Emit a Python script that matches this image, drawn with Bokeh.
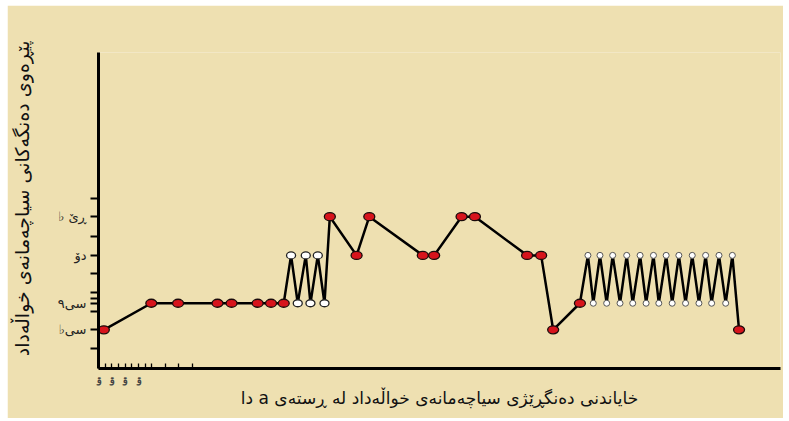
from bokeh.plotting import figure
from bokeh.models import FixedTicker, Range1d, ColumnDataSource
from bokeh.embed import file_html
from bokeh.resources import INLINE

BG = "#EEE0B1"
FONT = "DejaVu Sans"
RLE, PDF = "\u202B", "\u202C"

# pitch levels (y values) and their names
note_levels = {"si_flat": 2.0, "si_koron": 3.42, "do": 5.98, "re_flat": 8.05}
y_ticks = [1, 2, 3, 3.42, 3.65, 4, 5, 5.98, 7, 8.05, 9]
y_tick_labels = {2: "سی♭", 3.42: "سی۹", 5.98: "دۆ", 8.05: "ڕێ ♭"}

x_ticks = [0, 1, 2, 3, 4, 5, 6, 7, 8, 10, 12, 14]
x_tick_labels = {0: "ۊ", 2: "ۊ", 4: "ۊ", 6: "ۊ"}

# onset times (x) of the notes, note names and marker kind
times = [0.8, 7.9, 11.9, 17.8, 19.9, 23.8, 25.8, 27.7,
         28.8, 29.8, 31.0, 31.7, 32.8, 33.8,
         34.6, 38.6, 40.5, 48.5, 50.2, 54.3, 56.3, 64.1, 66.2, 68.0, 72.0,
         73.2, 74.0, 75.0, 76.0, 76.9, 78.0, 79.0, 79.9, 81.0, 81.9, 83.0, 83.8,
         84.9, 85.8, 86.8, 87.8, 88.8, 89.8, 90.8, 91.7, 92.8, 93.8, 94.8,
         95.8]
notes = ["si_flat", "si_koron", "si_koron", "si_koron", "si_koron", "si_koron", "si_koron", "si_koron",
         "do", "si_koron", "do", "si_koron", "do", "si_koron",
         "re_flat", "do", "re_flat", "do", "do", "re_flat", "re_flat", "do", "do", "si_flat", "si_koron",
         "do", "si_koron", "do", "si_koron", "do", "si_koron", "do", "si_koron", "do", "si_koron", "do", "si_koron",
         "do", "si_koron", "do", "si_koron", "do", "si_koron", "do", "si_koron", "do", "si_koron", "do",
         "si_flat"]
kinds = ["red"] * 8 + ["white"] * 6 + ["red"] * 11 + ["small"] * 23 + ["red"]

x_title = "خایاندنی دەنگڕێژی سیاچەمانەی خواڵەداد لە ڕستەی a دا"
y_title = "پێڕەوی دەنگەکانی سیاچەمانەی خواڵەداد"

values = [note_levels[n] for n in notes]

p = figure(width=776, height=413,
           x_range=Range1d(0, 102.0), y_range=Range1d(-0.07, 16.83),
           output_backend="svg", toolbar_location=None,
           min_border_left=90, min_border_right=3, min_border_top=47, min_border_bottom=50,
           background_fill_color=BG, border_fill_color=BG, outline_line_color=None)
p.margin = (5, 6, 3, 7)
p.xgrid.visible = False
p.ygrid.visible = False

p.line(times, values, line_color="black", line_width=2.5)

def subset(kind):
    xs = [t for t, k in zip(times, kinds) if k == kind]
    ys = [v for v, k in zip(values, kinds) if k == kind]
    return ColumnDataSource(dict(x=xs, y=ys))

p.ellipse(x="x", y="y", width=11, height=8, width_units="screen", height_units="screen",
          source=subset("red"), fill_color="#d7141c", line_color="#1a0a0a", line_width=1.3)
p.ellipse(x="x", y="y", width=9, height=7, width_units="screen", height_units="screen",
          source=subset("white"), fill_color="white", line_color="#222222", line_width=1.3)
p.scatter(x="x", y="y", size=6, marker="circle",
          source=subset("small"), fill_color="white", line_color="#555555", line_width=1)

# x axis
xa = p.xaxis[0]
xa.ticker = FixedTicker(ticks=x_ticks)
xa.major_label_overrides = {t: x_tick_labels.get(t, "") for t in x_ticks}
xa.major_tick_in = 5
xa.major_tick_out = 0
xa.major_tick_line_width = 1.3
xa.minor_tick_line_color = None
xa.axis_line_width = 3
xa.major_label_text_font_size = "10px"
xa.major_label_text_font = FONT
xa.major_label_text_font_style = "bold"
xa.axis_label = RLE + x_title + PDF
xa.axis_label_text_font = FONT
xa.axis_label_text_font_style = "normal"
xa.axis_label_text_font_size = "17px"
xa.axis_label_text_color = "#111111"
xa.axis_label_standoff = 0

# y axis
ya = p.yaxis[0]
ya.ticker = FixedTicker(ticks=y_ticks)
ya.major_label_overrides = {t: RLE + y_tick_labels[t] + PDF if t in y_tick_labels else "" for t in y_ticks}
ya.major_tick_in = 0
ya.major_tick_out = 8
ya.major_tick_line_width = 2
ya.minor_tick_line_color = None
ya.axis_line_width = 3
ya.major_label_text_font = FONT
ya.major_label_text_font_size = "13px"
ya.major_label_text_color = "#222222"
ya.major_label_standoff = 4
ya.axis_label = RLE + y_title + "\u00A0\u00A0\u00A0\u00A0" + PDF
ya.axis_label_text_font = FONT
ya.axis_label_text_font_style = "normal"
ya.axis_label_text_font_size = "19px"
ya.axis_label_text_color = "#111111"
ya.axis_label_standoff = 22

open("out.html", "w").write(file_html(p, INLINE))
